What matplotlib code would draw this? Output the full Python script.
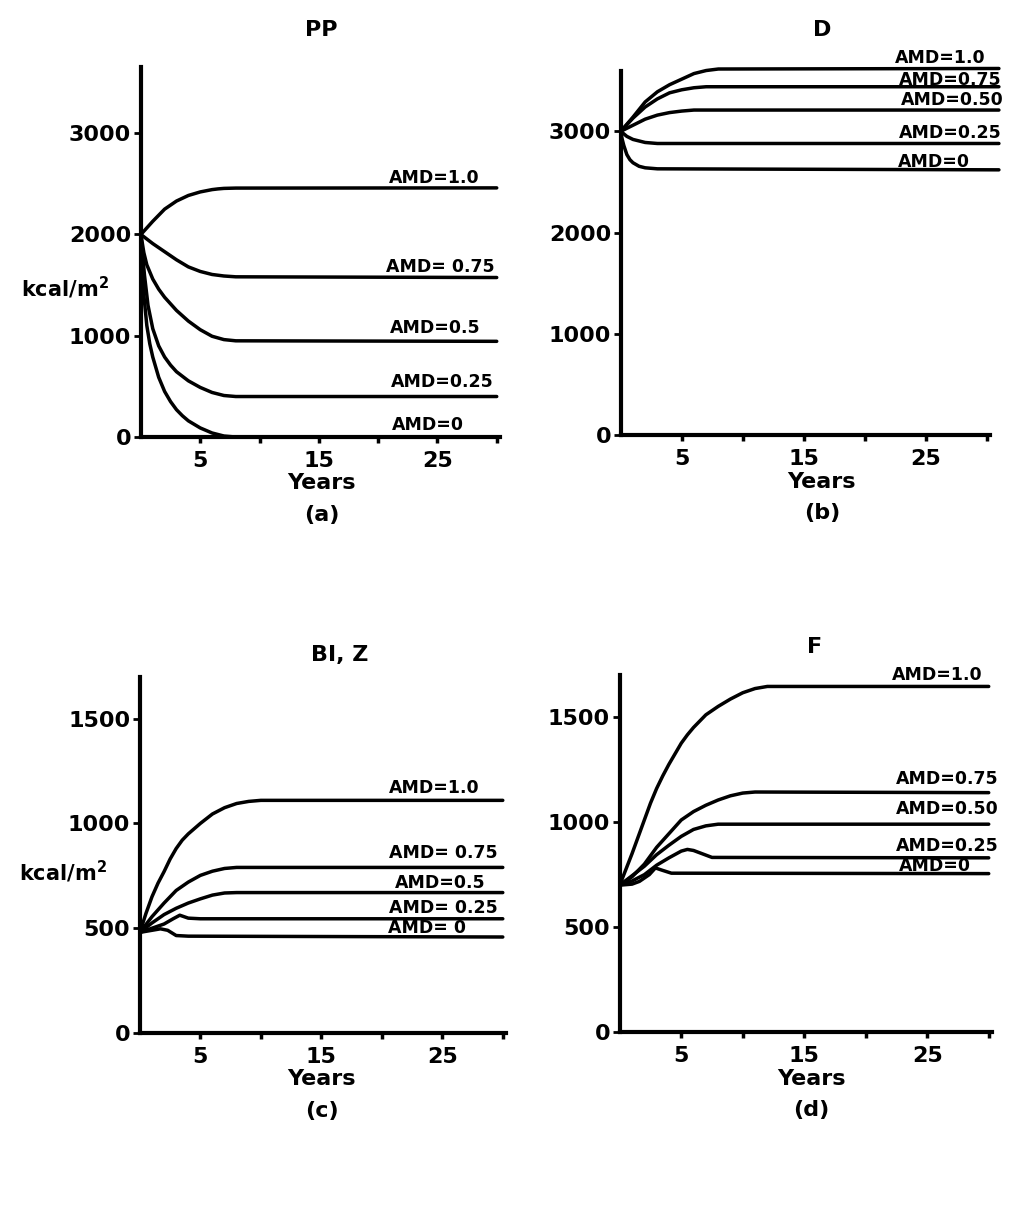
import matplotlib.pyplot as plt
from matplotlib.ticker import FixedLocator

plt.rcParams['font.family'] = ['DejaVu Sans']
plt.rcParams['font.weight'] = 'bold'
plt.rcParams['mathtext.default'] = 'bf'

# (a) PP - primary producers
pp_t = [
    [0, 1, 2, 3, 4, 5, 6, 6.5, 7, 8, 30],
    [0, 1, 2, 3, 4, 5, 6, 7, 8, 30],
    [0, 0.25, 0.5, 1, 1.5, 2, 3, 4, 5, 6, 7, 8, 30],
    [0, 0.15, 0.3, 0.6, 1, 1.5, 2, 2.5, 3, 4, 5, 6, 7, 8, 30],
    [0, 0.1, 0.25, 0.5, 0.75, 1, 1.5, 2, 2.5, 3, 3.5, 4, 5, 6, 7, 8, 30],
]
pp_v = [
    [2000, 2130, 2250, 2330, 2385, 2420, 2443, 2450, 2455, 2458, 2460],
    [2000, 1910, 1830, 1750, 1680, 1635, 1605, 1590, 1582, 1575],
    [2000, 1820, 1700, 1560, 1460, 1380, 1250, 1145, 1060, 995, 962, 950, 945],
    [2000, 1800, 1600, 1300, 1070, 900, 790, 710, 645, 555, 490, 440, 410, 400, 400],
    [2000, 1700, 1400, 1100, 920, 790, 590, 450, 350, 270, 210, 160, 90, 40, 10, 0, 0],
]
pp_labels = ["AMD=1.0", "AMD= 0.75", "AMD=0.5", "AMD=0.25", "AMD=0"]
pp_label_x = [24.75, 25.25, 24.8, 25.4, 24.2]
pp_label_y = [2560, 1680, 1075, 543, 118]

# (b) D - detritus
d_t = [
    [0, 1, 2, 3, 4, 5, 6, 7, 8, 31],
    [0, 1, 2, 3, 4, 5, 6, 7, 31],
    [0, 1, 2, 3, 4, 5, 6, 31],
    [0, 0.5, 1, 2, 3, 31],
    [0, 0.1, 0.25, 0.5, 0.75, 1, 1.5, 2, 3, 31],
]
d_v = [
    [3000, 3140, 3290, 3390, 3460, 3515, 3570, 3600, 3615, 3620],
    [3000, 3130, 3240, 3320, 3380, 3410, 3430, 3440, 3440],
    [3000, 3060, 3120, 3160, 3185, 3200, 3210, 3210],
    [3000, 2950, 2920, 2890, 2880, 2880],
    [3000, 2930, 2860, 2770, 2720, 2690, 2655, 2640, 2630, 2620],
]
d_labels = ["AMD=1.0", "AMD=0.75", "AMD=0.50", "AMD=0.25", "AMD=0"]
d_label_x = [26.2, 27.0, 27.2, 27.0, 25.7]
d_label_y = [3722, 3505, 3307, 2981, 2695]

# (c) BI, Z
bz_t = [
    [0, 0.5, 1, 1.5, 2, 2.5, 3, 3.5, 4, 5, 6, 7, 8, 9, 10, 30],
    [0, 1, 2, 3, 4, 5, 6, 7, 8, 30],
    [0, 1, 2, 3, 4, 5, 6, 7, 8, 30],
    [0, 1, 2, 2.75, 3.3, 4, 5, 30],
    [0, 1, 1.7, 2.3, 3, 4, 30],
]
bz_v = [
    [480, 570, 650, 715, 770, 830, 880, 920, 950, 1000, 1045, 1075, 1095, 1105, 1110, 1110],
    [480, 555, 620, 680, 720, 752, 772, 785, 790, 790],
    [480, 525, 565, 595, 620, 640, 658, 668, 670, 670],
    [480, 500, 520, 545, 562, 548, 545, 545],
    [480, 490, 497, 490, 465, 462, 458],
]
bz_labels = ["AMD=1.0", "AMD= 0.75", "AMD=0.5", "AMD= 0.25", "AMD= 0"]
bz_label_x = [24.3, 25.1, 24.8, 25.1, 23.7]
bz_label_y = [1171, 857, 714, 595, 500]

# (d) F
f_t = [
    [0, 0.5, 1, 1.5, 2, 2.5, 3, 3.5, 4, 4.5, 5, 5.5, 6, 6.5, 7, 8, 9, 10, 11, 12, 30],
    [0, 1, 2, 3, 4, 5, 6, 7, 8, 9, 10, 11, 30],
    [0, 1, 2, 3, 4, 5, 6, 7, 8, 30],
    [0, 1, 2, 3, 4, 5, 5.5, 6, 7, 7.5, 30],
    [0, 1, 1.6, 2.4, 2.9, 3.4, 4.2, 30],
]
f_v = [
    [700, 775, 850, 930, 1010, 1090, 1160, 1220, 1275, 1325, 1375, 1415, 1450, 1480, 1510,
     1550, 1585, 1615, 1635, 1645, 1645],
    [700, 740, 800, 880, 945, 1010, 1050, 1080, 1105, 1125, 1138, 1143, 1140],
    [700, 745, 790, 845, 890, 932, 965, 982, 990, 990],
    [700, 720, 750, 795, 830, 862, 870, 865, 843, 832, 830],
    [700, 705, 718, 750, 782, 772, 757, 755],
]
f_labels = ["AMD=1.0", "AMD=0.75", "AMD=0.50", "AMD=0.25", "AMD=0"]
f_label_x = [25.8, 26.6, 26.6, 26.6, 25.6]
f_label_y = [1699, 1206, 1062, 885, 789]

panels = [
    # rect, ylim top, yticks, data, labels, title, title pos, sub, "Years" x, kcal label y
    ([0.138, 0.6406, 0.352, 0.304], 3650, [0, 1000, 2000, 3000], pp_t, pp_v,
     pp_labels, pp_label_x, pp_label_y, "PP", (0.315, 0.975), "(a)", 0.315, 1470),
    ([0.608, 0.642, 0.362, 0.300], 3600, [0, 1000, 2000, 3000], d_t, d_v,
     d_labels, d_label_x, d_label_y, "D", (0.805, 0.975), "(b)", 0.805, None),
    ([0.137, 0.1505, 0.359, 0.293], 1700, [0, 500, 1000, 1500], bz_t, bz_v,
     bz_labels, bz_label_x, bz_label_y, "BI, Z", (0.333, 0.461), "(c)", 0.315, 767),
    ([0.607, 0.151, 0.365, 0.294], 1700, [0, 500, 1000, 1500], f_t, f_v,
     f_labels, f_label_x, f_label_y, "F", (0.798, 0.468), "(d)", 0.795, None),
]

fig = plt.figure(figsize=(10.21, 12.16), dpi=100)

for (rect, ytop, yticks, ts, vs, labels, lx, ly, title, tpos, sub, xl, kcal_y) in panels:
    ax = fig.add_axes(rect)
    for t, v in zip(ts, vs):
        ax.plot(t, v, color='black', lw=2.5, clip_on=False,
                solid_capstyle='round', solid_joinstyle='round')
    for s, x, y in zip(labels, lx, ly):
        ax.text(x, y, s, ha='center', va='center', fontsize=12.5, fontweight='bold')
    ax.set_xlim(0, 30.3)
    ax.set_ylim(0, ytop)
    ax.spines['top'].set_visible(False)
    ax.spines['right'].set_visible(False)
    ax.spines['left'].set_linewidth(3)
    ax.spines['bottom'].set_linewidth(3)
    ax.set_yticks(yticks)
    ax.set_xticks([5, 15, 25])
    ax.xaxis.set_minor_locator(FixedLocator([10, 20, 30]))
    ax.tick_params(axis='y', length=5, width=2, labelsize=16, pad=2)
    ax.tick_params(axis='x', which='both', length=4, width=2.5, labelsize=16, pad=6)
    for lab in ax.get_xticklabels() + ax.get_yticklabels():
        lab.set_fontweight('bold')
    fig.text(tpos[0], tpos[1], title, ha='center', va='center', fontsize=16, fontweight='bold')
    ybase = rect[1]
    fig.text(xl, ybase - 0.038, "Years", ha='center', va='center', fontsize=16, fontweight='bold')
    fig.text(xl, ybase - 0.064, sub, ha='center', va='center', fontsize=16, fontweight='bold')
    if kcal_y is not None:
        ax.text(-0.21, kcal_y, "kcal/m$^{2}$", transform=ax.get_yaxis_transform(),
                ha='center', va='center', fontsize=15, fontweight='bold')

plt.savefig("out.png", dpi=100)
